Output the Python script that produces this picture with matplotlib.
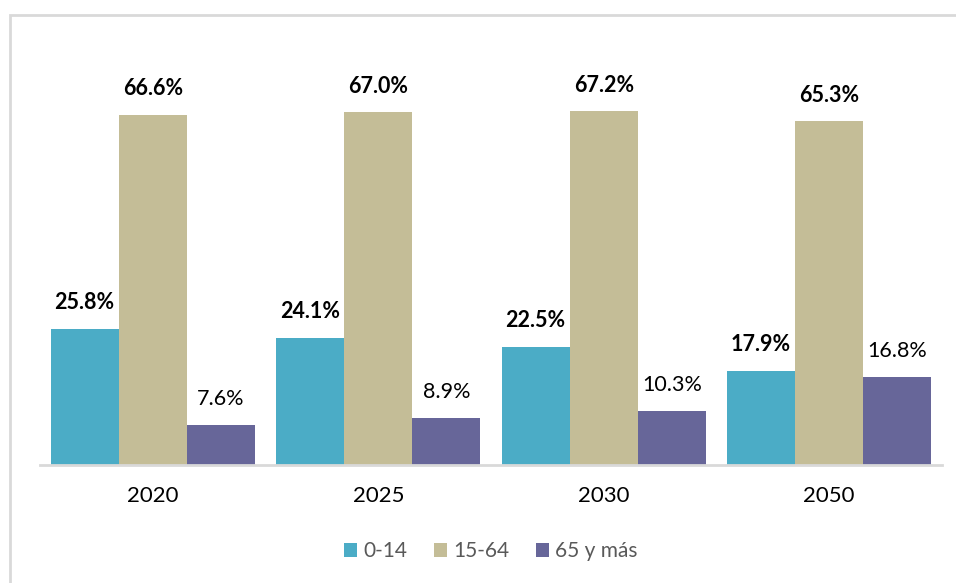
import matplotlib.pyplot as plt
import numpy as np
from matplotlib.patches import Rectangle

# data
years = ['2020', '2025', '2030', '2050']
series = ['0-14', '15-64', '65 y más']
v_0_14 = [25.8, 24.1, 22.5, 17.9]
v_15_64 = [66.6, 67.0, 67.2, 65.3]
v_65 = [7.6, 8.9, 10.3, 16.8]

colors = ['#4BACC6', '#C4BD97', '#676699']
bold = ['bold', 'bold', 'normal']

plt.rcParams['font.family'] = ['Lato', 'DejaVu Sans']

fig = plt.figure(figsize=(9.56, 5.83), dpi=100)
ax = fig.add_axes([40/956, 118/583, 902/956, 421/583])

x = np.arange(len(years))
w = 0.302
for i, (vals, c) in enumerate(zip([v_0_14, v_15_64, v_65], colors)):
    pos = x + (i - 1) * w
    ax.bar(pos, vals, w, color=c, label=series[i], edgecolor='none')
    for px, v in zip(pos, vals):
        ax.text(px, v + 3.0, f'{v:.1f}%', ha='center', va='bottom',
                fontsize=15.5, fontweight=bold[i], color='black')

ax.set_xlim(-0.5, 3.5)
ax.set_ylim(0, 80)
ax.set_yticks([])
ax.set_xticks(x)
ax.set_xticklabels(years, fontsize=16)
ax.tick_params(axis='x', length=0, pad=15)
for s in ['top', 'right', 'left']:
    ax.spines[s].set_visible(False)
ax.spines['bottom'].set_color('#D9D9D9')
ax.spines['bottom'].set_linewidth(2)

ax.legend(loc='center', bbox_to_anchor=(0.5, -0.205), ncol=3, frameon=False,
          fontsize=15, labelcolor='#595959', handlelength=0.6, handleheight=0.6,
          handletextpad=0.3, columnspacing=1.3)

# chart border
fig.patches.append(Rectangle((10/956, -0.01), 1.0, 1 - 15/583 + 0.01,
                             transform=fig.transFigure, fill=False,
                             edgecolor='#D9D9D9', linewidth=2))

fig.savefig('out.png', dpi=100)
